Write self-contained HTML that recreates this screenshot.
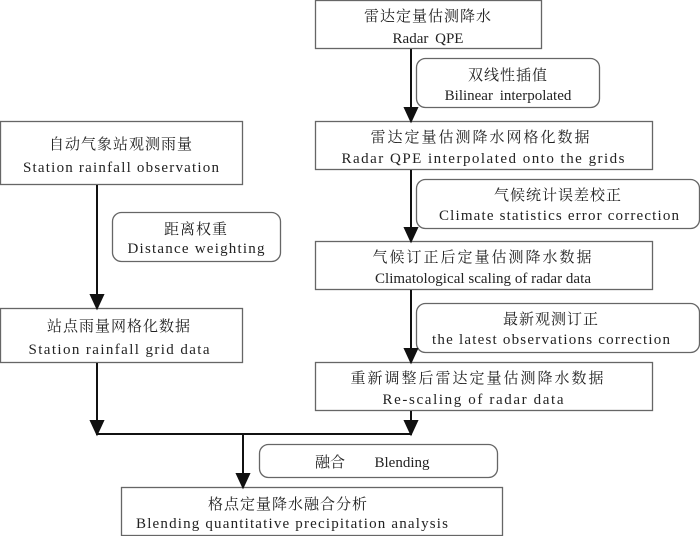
<!DOCTYPE html>
<html><head><meta charset="utf-8"><style>
html,body{margin:0;padding:0;background:#fff;}
svg{display:block;}
text{font-family:"Liberation Serif","Noto Serif CJK SC",serif;font-size:15px;fill:#222;}
.zh{font-family:"Liberation Serif","Noto Serif CJK SC","Noto Sans CJK SC",serif;font-size:15px;}
</style></head><body>
<svg width="700" height="536" viewBox="0 0 700 536" xmlns="http://www.w3.org/2000/svg">
<defs><marker id="a" markerWidth="10" markerHeight="10" refX="5" refY="9" orient="auto" markerUnits="userSpaceOnUse"><path d="M0,0 L10,0 L5,10 Z" transform="rotate(-90 5 5)" fill="#111"/></marker></defs>
<g fill="#fff" stroke="#666" stroke-width="1.3">
<rect x="315.5" y="0.5" width="226" height="48"/>
<rect x="416.5" y="58.5" width="183" height="49" rx="9"/>
<rect x="315.5" y="121.5" width="337" height="48"/>
<rect x="416.5" y="179.5" width="283" height="49" rx="9"/>
<rect x="315.5" y="241.5" width="337" height="48"/>
<rect x="0.5" y="121.5" width="242" height="63"/>
<rect x="112.5" y="212.5" width="168" height="49" rx="9"/>
<rect x="0.5" y="308.5" width="242" height="54"/>
<rect x="416.5" y="303.5" width="283" height="49" rx="9"/>
<rect x="315.5" y="362.5" width="337" height="48"/>
<rect x="259.5" y="444.5" width="238" height="33" rx="9"/>
<rect x="121.5" y="487.5" width="381" height="48"/>
</g>
<g stroke="#111" stroke-width="2" fill="#111">
<line x1="411" y1="49" x2="411" y2="110"/><path d="M405,108 L417,108 L411,121 Z"/>
<line x1="411" y1="170" x2="411" y2="230"/><path d="M405,228 L417,228 L411,241 Z"/>
<line x1="411" y1="290" x2="411" y2="351"/><path d="M405,349 L417,349 L411,362 Z"/>
<line x1="97" y1="185" x2="97" y2="297"/><path d="M91,295 L103,295 L97,308 Z"/>
<line x1="97" y1="363" x2="97" y2="425"/><path d="M91,421 L103,421 L97,434 Z"/>
<line x1="411" y1="411" x2="411" y2="425"/><path d="M405,421 L417,421 L411,434 Z"/>
<line x1="96" y1="434" x2="412" y2="434"/>
<line x1="243" y1="434" x2="243" y2="476"/><path d="M237,474 L249,474 L243,487 Z"/>
</g>
<g text-anchor="middle">
<text class="zh" x="428" y="21" letter-spacing="1">雷达定量估测降水</text>
<text x="428" y="43" word-spacing="3">Radar QPE</text>
<text class="zh" x="508" y="80" letter-spacing="1">双线性插值</text>
<text x="508" y="100" word-spacing="3">Bilinear interpolated</text>
<text class="zh" x="481" y="142" letter-spacing="2">雷达定量估测降水网格化数据</text>
<text x="483" y="163" textLength="283" lengthAdjust="spacing">Radar QPE interpolated onto the grids</text>
<text class="zh" x="558" y="200" letter-spacing="1">气候统计误差校正</text>
<text x="559" y="220" textLength="240" lengthAdjust="spacing">Climate statistics error correction</text>
<text class="zh" x="483" y="262" letter-spacing="2">气候订正后定量估测降水数据</text>
<text x="483" y="283" textLength="216" lengthAdjust="spacing">Climatological scaling of radar data</text>
<text class="zh" x="121" y="149" letter-spacing="1">自动气象站观测雨量</text>
<text x="121" y="172" textLength="196" lengthAdjust="spacing">Station rainfall observation</text>
<text class="zh" x="196" y="234" letter-spacing="1">距离权重</text>
<text x="196" y="253" textLength="137" lengthAdjust="spacing">Distance weighting</text>
<text class="zh" x="119" y="331" letter-spacing="1">站点雨量网格化数据</text>
<text x="119" y="354" textLength="181" lengthAdjust="spacing">Station rainfall grid data</text>
<text class="zh" x="551" y="324" letter-spacing="1">最新观测订正</text>
<text x="551" y="344" textLength="238" lengthAdjust="spacing">the latest observations correction</text>
<text class="zh" x="478" y="383" letter-spacing="2">重新调整后雷达定量估测降水数据</text>
<text x="473" y="404" textLength="181" lengthAdjust="spacing">Re-scaling of radar data</text>
<text class="zh" x="330" y="467">融合</text>
<text x="402" y="467">Blending</text>
<text class="zh" x="288" y="509" letter-spacing="1">格点定量降水融合分析</text>
<text x="292" y="528" textLength="312" lengthAdjust="spacing">Blending quantitative precipitation analysis</text>
</g>
</svg>
</body></html>
